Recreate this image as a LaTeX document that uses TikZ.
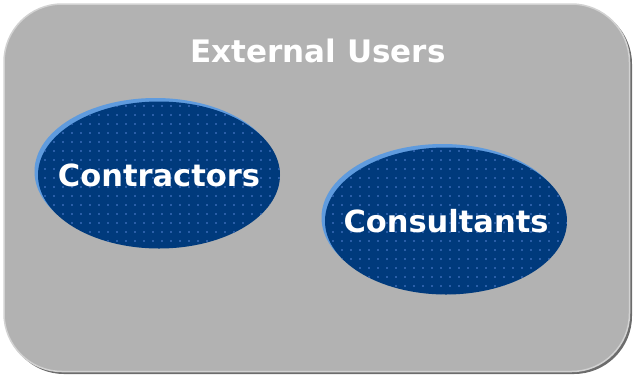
\documentclass[tikz,border=0pt]{standalone}
\usepackage{fontspec}
\newfontfamily\userfont{DejaVu Sans}
\usetikzlibrary{shapes.geometric,shadows,patterns.meta}

\definecolor{boxgray}{HTML}{B2B2B2}
\definecolor{edgelight}{HTML}{D2D2D2}
\definecolor{edgedark}{HTML}{6C6C6C}
\definecolor{groupblue}{HTML}{003A7C}
\definecolor{dotblue}{HTML}{3A6CB8}
\definecolor{rimblue}{HTML}{5F9BDE}

\tikzset{
  group/.style={ellipse,minimum width=242pt,minimum height=147pt,inner xsep=-40pt,inner ysep=0pt,
    preaction={copy shadow={fill=rimblue,draw=none,shadow xshift=-3.5pt,shadow yshift=3.5pt}},
    preaction={fill=groupblue},
    pattern={Dots[distance=9pt,radius=1.1pt]},pattern color=dotblue,
    text=white,font=\userfont\bfseries\fontsize{30.5}{34}\selectfont},
  title/.style={text=white,font=\userfont\bfseries\fontsize{31}{34}\selectfont}
}

\begin{document}
\begin{tikzpicture}[x=1pt,y=-1pt]
  \useasboundingbox (0,0) rectangle (633,376);

  \coordinate (b1) at (4,4);
  \coordinate (b2) at (629.5,371.5);
  \coordinate (s1) at (6,6);
  \coordinate (s2) at (632,374);

  % frame with its shadow
  \fill [edgedark,rounded corners=58pt] (s1) rectangle (s2);
  \draw [fill=boxgray,draw=edgelight,line width=1.5pt,rounded corners=58pt] (b1) rectangle (b2);

  \node [title] (users) at (318,51) {External Users};

  \node [group] (contractors) at (159,175) {Contractors};
  \node [group] (consultants) at (446,221) {Consultants};
\end{tikzpicture}
\end{document}
